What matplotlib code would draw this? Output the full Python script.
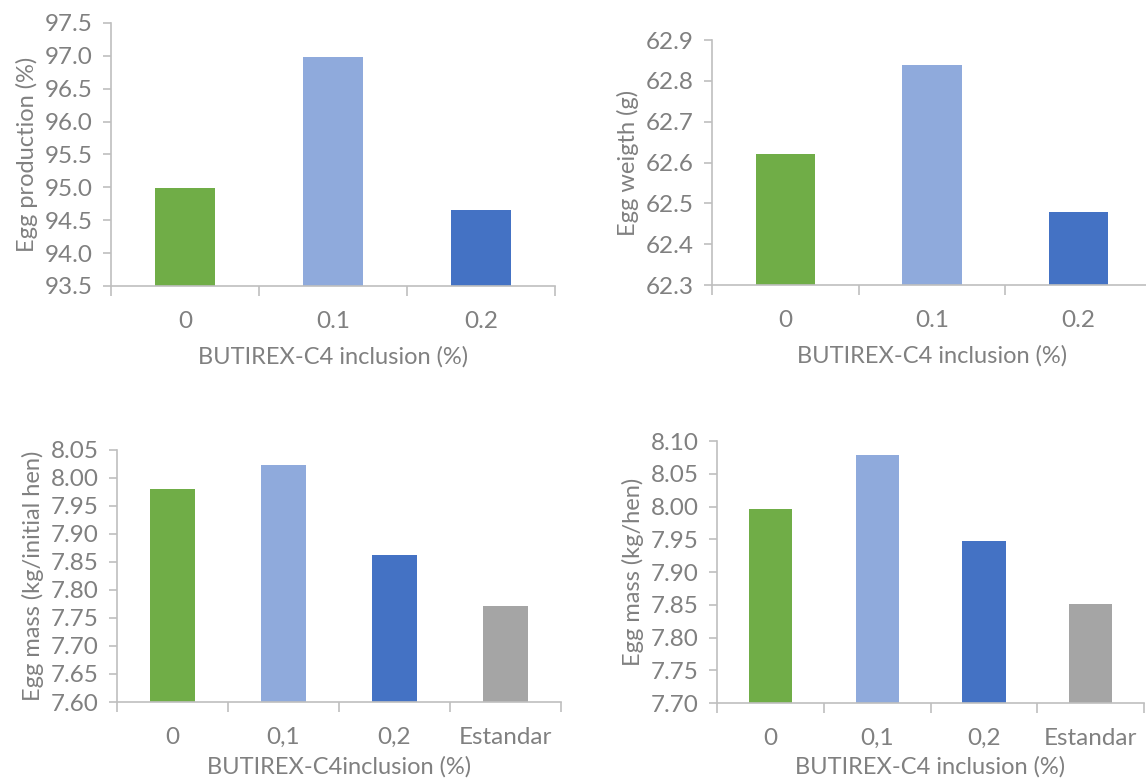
import matplotlib.pyplot as plt
import matplotlib.ticker as mticker

plt.rcParams['font.family'] = ['Lato', 'DejaVu Sans']

# data
cats_a = ['0', '0.1', '0.2']
egg_production = [94.99, 96.98, 94.66]
egg_weight = [62.62, 62.84, 62.48]

cats_b = ['0', '0,1', '0,2', 'Estandar']
egg_mass_initial = [7.980, 8.023, 7.863, 7.771]
egg_mass_hen = [7.997, 8.079, 7.948, 7.851]

colors = ['#70AD47', '#8FAADC', '#4472C4', '#A5A5A5']
txt = '#808080'
line = '#BFBFBF'

fig = plt.figure(figsize=(11.46, 7.82), dpi=100)


def panel(rect, cats, vals, ylim, step, fmt, ylabel, xlabel, xpad=10):
    ax = fig.add_axes(rect)
    n = len(cats)
    ax.bar(range(n), vals, width=0.405, color=colors[:n], zorder=2)
    ax.set_xlim(-0.5, n - 0.5)
    ax.set_ylim(*ylim)
    ax.yaxis.set_major_locator(mticker.MultipleLocator(step))
    ax.yaxis.set_major_formatter(mticker.FormatStrFormatter(fmt))
    ax.set_xticks(range(n))
    ax.set_xticklabels(cats)
    ax.set_xticks([i - 0.5 for i in range(n + 1)], minor=True)
    ax.tick_params(axis='x', which='major', length=0, pad=18, labelsize=17.5, labelcolor=txt)
    ax.tick_params(axis='x', which='minor', length=7, width=1.2, color=line)
    ax.tick_params(axis='y', length=6, width=1.2, color=line, labelsize=17.5, labelcolor=txt, pad=7)
    for s in ['top', 'right']:
        ax.spines[s].set_visible(False)
    for s in ['left', 'bottom']:
        ax.spines[s].set_color(line)
        ax.spines[s].set_linewidth(1.2)
    ax.set_ylabel(ylabel, fontsize=17, color=txt, labelpad=5)
    ax.set_xlabel(xlabel, fontsize=17, color=txt, labelpad=xpad)
    return ax


panel([0.0969, 0.6343, 0.3874, 0.3363], cats_a, egg_production, (93.5, 97.5), 0.5, '%.1f',
      'Egg production (%)', 'BUTIREX-C4 inclusion (%)')
panel([0.6213, 0.6355, 0.3839, 0.3133], cats_a, egg_weight, (62.3, 62.9), 0.1, '%.1f',
      'Egg weigth (g)', 'BUTIREX-C4 inclusion (%)')
panel([0.1021, 0.1023, 0.3874, 0.3223], cats_b, egg_mass_initial, (7.60, 8.05), 0.05, '%.2f',
      'Egg mass (kg/initial hen)', 'BUTIREX-C4inclusion (%)', xpad=6)
panel([0.6257, 0.1010, 0.3726, 0.3350], cats_b, egg_mass_hen, (7.70, 8.10), 0.05, '%.2f',
      'Egg mass (kg/hen)', 'BUTIREX-C4 inclusion (%)', xpad=5)

fig.savefig('out.png', dpi=100)
